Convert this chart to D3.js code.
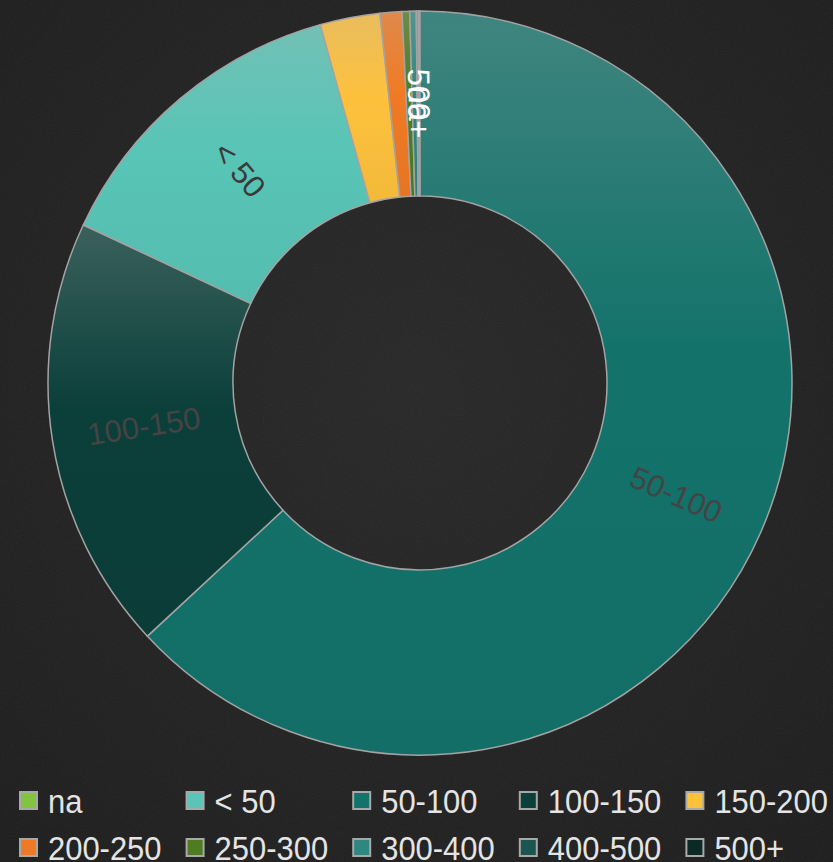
<!DOCTYPE html>
<html>
<head>
<meta charset="utf-8">
<script src="https://cdn.jsdelivr.net/npm/d3@7"></script>
<style>
  html, body { margin: 0; padding: 0; background: #232323; }
  svg { display: block; }
</style>
</head>
<body>
<svg id="chart" width="833" height="862"></svg>
<script>
// ---- data ----
const categories = ["na", "< 50", "50-100", "100-150", "150-200", "200-250", "250-300", "300-400", "400-500", "500+"];
const values     = [0.03, 13.7, 63.1, 18.9, 2.6, 0.95, 0.33, 0.28, 0.08, 0.05];
const colors     = ["#80c440", "#58c5b6", "#13736b", "#0b3f3a", "#fdc13c", "#f07a24", "#4f7c22", "#2e8880", "#1c5550", "#0b2a26"];
const labelColors = ["#ffffff", "#3a3a3a", "#444444", "#444444", null, null, null, null, null, "#ffffff"];

const W = 833, H = 862;
const cx = 420, cy = 383, rOuter = 372, rInner = 187;

const svg = d3.select("#chart");
const defs = svg.append("defs");

// background
const bg = defs.append("radialGradient").attr("id", "bgGrad")
  .attr("cx", "50%").attr("cy", "45%").attr("r", "75%");
bg.append("stop").attr("offset", "0%").attr("stop-color", "#272727");
bg.append("stop").attr("offset", "100%").attr("stop-color", "#1c1c1c");
const noise = defs.append("filter").attr("id", "noise").attr("x", 0).attr("y", 0).attr("width", "100%").attr("height", "100%");
noise.append("feTurbulence").attr("type", "fractalNoise").attr("baseFrequency", 0.9).attr("numOctaves", 2).attr("seed", 3).attr("result", "t");
noise.append("feColorMatrix").attr("in", "t").attr("type", "matrix")
  .attr("values", "0 0 0 0 1  0 0 0 0 1  0 0 0 0 1  0 0 0 0.05 0");
svg.append("rect").attr("width", W).attr("height", H).attr("fill", "url(#bgGrad)");
svg.append("rect").attr("width", W).attr("height", H).attr("filter", "url(#noise)");

// gradients per slice
function lighten(c, t) {
  return d3.interpolateRgb(c, "#b4b4b4")(t);
}
colors.forEach((c, i) => {
  const g = defs.append("linearGradient").attr("id", "g" + i)
    .attr("x1", 0).attr("y1", 0).attr("x2", 0).attr("y2", 1);
  g.append("stop").attr("offset", "0%").attr("stop-color", lighten(c, 0.28));
  g.append("stop").attr("offset", "45%").attr("stop-color", c);
  g.append("stop").attr("offset", "100%").attr("stop-color", d3.interpolateRgb(c, "#000")(0.04));
});

const data = categories.map((k, i) => ({ key: k, value: values[i], i }));
const pie = d3.pie().value(d => d.value); // default sort: descending by value
const arcs = pie(data);
const arc = d3.arc().innerRadius(rInner).outerRadius(rOuter);
const labelArc = d3.arc().innerRadius((rInner + rOuter) / 2).outerRadius((rInner + rOuter) / 2);

const g = svg.append("g").attr("transform", `translate(${cx},${cy})`);
g.selectAll("path.slice").data(arcs).join("path")
  .attr("class", "slice")
  .attr("d", arc)
  .attr("fill", d => `url(#g${d.data.i})`)
  .attr("stroke", "#a3a3a3")
  .attr("stroke-width", 1.5)
  .attr("stroke-linejoin", "round");

// labels
const labeled = arcs.filter(d => labelColors[d.data.i]);
g.selectAll("text.lbl").data(labeled).join("text")
  .attr("class", "lbl")
  .attr("transform", d => {
    const [x, y] = labelArc.centroid(d);
    const mid = (d.startAngle + d.endAngle) / 2 * 180 / Math.PI;
    let rot = mid - 90;
    if (rot > 90) rot -= 180;
    return `translate(${x},${y}) rotate(${rot})`;
  })
  .attr("text-anchor", "middle")
  .attr("dy", "0.35em")
  .attr("font-family", "'Liberation Sans', Arial, sans-serif")
  .attr("font-size", 31)
  .attr("fill", d => labelColors[d.data.i])
  .text(d => d.data.key);

// legend
const colW = W / 5;
const legend = svg.append("g");
const items = legend.selectAll("g.item").data(data).join("g")
  .attr("class", "item")
  .attr("transform", (d, i) => `translate(${20 + (i % 5) * colW},${801 + Math.floor(i / 5) * 47})`);
items.append("rect")
  .attr("x", 0).attr("y", -9).attr("width", 17).attr("height", 17)
  .attr("fill", d => colors[d.i])
  .attr("stroke", "#a8a8a8").attr("stroke-width", 2);
items.append("text")
  .attr("transform", "translate(28,0) scale(0.91,1)")
  .attr("dy", "0.36em")
  .attr("font-family", "'Liberation Sans', Arial, sans-serif")
  .attr("font-size", 34)
  .attr("fill", "#e4e4e4")
  .text(d => d.key);
</script>
</body>
</html>
